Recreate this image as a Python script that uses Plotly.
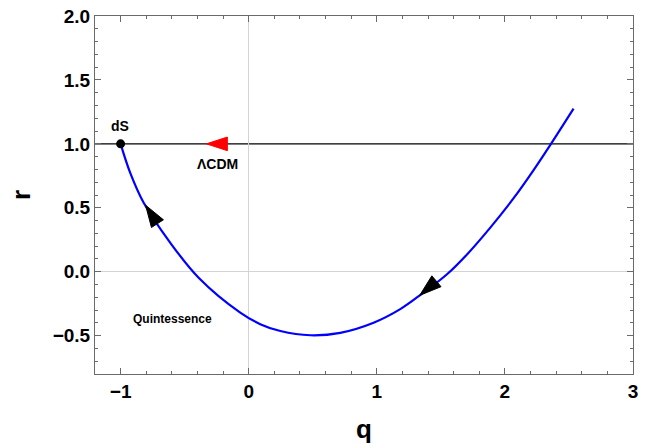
import plotly.graph_objects as go

# Trajectory in the q-r plane
q_curve = [-1.0, -0.925, -0.82, -0.612, -0.391, -0.066, 0.09, 0.247, 0.481, 0.715,
           0.975, 1.183, 1.353, 1.548, 1.704, 1.886, 2.068, 2.224, 2.36, 2.536]
r_curve = [1.0, 0.773, 0.539, 0.226, -0.047, -0.32, -0.41, -0.464, -0.497, -0.478,
           -0.399, -0.293, -0.172, -0.02, 0.135, 0.345, 0.575, 0.795, 1.0, 1.275]

# LCDM line r = 1
lcdm_r = 1.0

# de Sitter point
ds_q = [-1.0]
ds_r = [1.0]

# Direction arrows on the curve: (tail, tip) pairs
arrow_tail_q = [-0.76, 1.40]
arrow_tail_r = [0.45, -0.13]
arrow_tip_q = [-0.805, 1.335]
arrow_tip_r = [0.52, -0.185]

# Red arrow on the LCDM line
red_tail_q, red_tip_q = -0.20, -0.33
red_r = 1.0

# Labels
labels = ["dS", "\u039bCDM", "Quintessence"]
label_q = [-1.008, -0.24, -0.596]
label_r = [1.14, 0.845, -0.372]
label_size = [14, 14, 12]

FONT = "Liberation Sans, Arial, sans-serif"
FRAME = "#6a6a6a"

fig = go.Figure()

fig.add_shape(type="line", xref="paper", x0=0, x1=1, yref="y", y0=lcdm_r, y1=lcdm_r,
              line=dict(color="black", width=1.3), layer="below")

fig.add_trace(go.Scatter(x=q_curve, y=r_curve, mode="lines",
                         line=dict(color="#0000ff", width=2.2, shape="spline", smoothing=1.0),
                         showlegend=False, hoverinfo="skip"))

fig.add_trace(go.Scatter(x=ds_q, y=ds_r, mode="markers",
                         marker=dict(color="black", size=9, opacity=1),
                         showlegend=False, hoverinfo="skip"))

for tq, tr, hq, hr in zip(arrow_tail_q, arrow_tail_r, arrow_tip_q, arrow_tip_r):
    fig.add_trace(go.Scatter(x=[tq, hq], y=[tr, hr], mode="markers",
                             marker=dict(symbol="arrow", angleref="previous", size=[0, 23],
                                         color="black", opacity=1,
                                         line=dict(width=1, color="black")),
                             showlegend=False, hoverinfo="skip"))

fig.add_trace(go.Scatter(x=[red_tail_q, red_tip_q], y=[red_r, red_r], mode="markers",
                         marker=dict(symbol="arrow", angleref="previous", size=[0, 22],
                                     color="red", opacity=1,
                                     line=dict(width=1, color="red")),
                         showlegend=False, hoverinfo="skip"))

for t, q, r, s in zip(labels, label_q, label_r, label_size):
    fig.add_annotation(x=q, y=r, xref="x", yref="y", text=t, showarrow=False,
                       font=dict(family=FONT, size=s, color="black", weight="bold"))

axis_common = dict(
    showgrid=False,
    zeroline=True, zerolinecolor="#d4d4d4", zerolinewidth=1,
    showline=True, linecolor=FRAME, linewidth=1, mirror="ticks",
    ticks="inside", ticklen=6, tickcolor=FRAME, tickwidth=1,
    tickfont=dict(family=FONT, size=19, color="black", weight="bold"),
)

fig.update_xaxes(range=[-1.2, 3.0], tickmode="linear", tick0=0, dtick=1,
                 minor=dict(ticks="inside", ticklen=3, dtick=0.2, tickcolor=FRAME, showgrid=False),
                 title=dict(text="q", font=dict(family=FONT, size=26, color="black", weight="bold"),
                            standoff=19),
                 **axis_common)
fig.update_yaxes(range=[-0.8, 2.0], tickmode="linear", tick0=0, dtick=0.5, tickformat=".1f",
                 minor=dict(ticks="inside", ticklen=3, dtick=0.1, tickcolor=FRAME, showgrid=False),
                 title=dict(text="r", font=dict(family=FONT, size=26, color="black", weight="bold"),
                            standoff=14),
                 **axis_common)

fig.update_layout(width=646, height=445,
                  margin=dict(l=95, r=13, t=16, b=71, autoexpand=False),
                  plot_bgcolor="white", paper_bgcolor="white")

fig.write_html("out.html", config={"displayModeBar": False},
               post_script="document.body.style.margin='0';document.body.style.overflow='hidden';")
